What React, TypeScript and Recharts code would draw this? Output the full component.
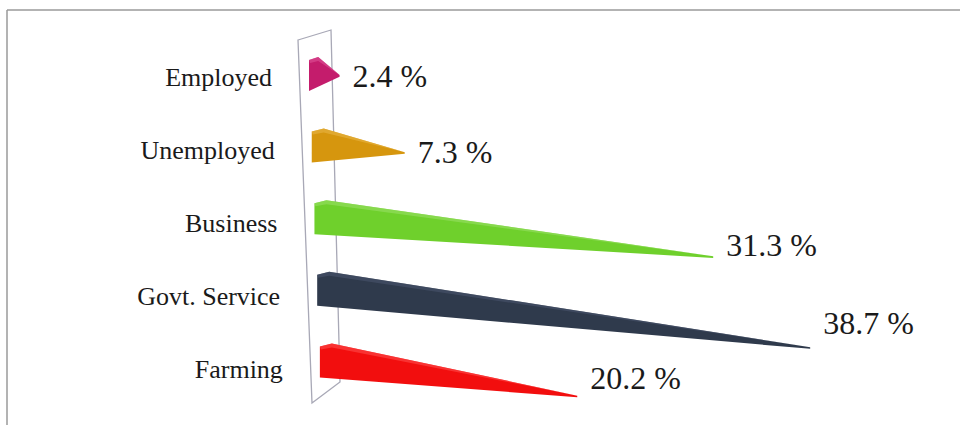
import React from 'react';
import { BarChart, Bar, XAxis, YAxis, LabelList, Cell } from 'recharts';

const categories = ['Employed', 'Unemployed', 'Business', 'Govt. Service', 'Farming'];
const values = [2.4, 7.3, 31.3, 38.7, 20.2];
const colors = ['#c41c6c', '#d6960e', '#6fd02c', '#2f3a4c', '#f20e0e'];
const topColors = ['#e0559a', '#eab84a', '#9be06a', '#4a5670', '#ff5050'];

const data = categories.map((name, i) => ({ name, value: values[i] }));

const W = 960;
const H = 425;
const MARGIN = { top: 38, right: 14, bottom: 29, left: 0 };
const YAXIS_W = 309;
const FIRST_CY = MARGIN.top + (H - MARGIN.top - MARGIN.bottom) / categories.length / 2;
const SERIF = '"Liberation Serif", "Times New Roman", Times, serif';

function geom(x: number, y: number, width: number, height: number) {
  const cy = y + height / 2;
  const shift = (cy - FIRST_CY) * 0.038;
  const x0 = x + shift;
  const len = width;
  const tipX = x0 + len;
  const drop = len * (0.06 + (cy - FIRST_CY) * 0.00028);
  const tipY = cy + drop;
  return { cy, x0, len, tipX, tipY };
}

const WedgeShape = (props: any) => {
  const { x, y, width, height, index } = props;
  if (width == null || width <= 0) return null;
  const g = geom(x, y, width, height);
  const bevel = Math.min(12, g.len * 0.3);
  const main = [
    [g.x0, y + 3],
    [g.x0 + bevel, y],
    [g.tipX, g.tipY - 0.8],
    [g.tipX, g.tipY + 0.8],
    [g.x0, y + height],
  ]
    .map((p) => p.join(','))
    .join(' ');
  const top = [
    [g.x0, y + 3],
    [g.x0 + bevel, y],
    [g.tipX, g.tipY - 0.8],
    [g.x0 + bevel, y + 4],
    [g.x0 + 1, y + 6],
  ]
    .map((p) => p.join(','))
    .join(' ');
  return (
    <g>
      <polygon points={main} fill={colors[index]} />
      <polygon points={top} fill={topColors[index]} opacity={0.55} />
    </g>
  );
};

const ValueLabel = (props: any) => {
  const { x, y, width, height, value } = props;
  const g = geom(x, y, width, height);
  return (
    <text
      x={g.tipX + 13}
      y={g.cy + 11 + g.len * 0.069}
      fontFamily={SERIF}
      fontSize={32}
      fill="#1a1a1a"
      textAnchor="start"
    >
      {`${value} %`}
    </text>
  );
};

const CategoryTick = (props: any) => {
  const { x, y, payload } = props;
  return (
    <text
      x={x - 37 + (y - FIRST_CY) * 0.038}
      y={y + 12.5 + (y - FIRST_CY) * 0.018}
      fontFamily={SERIF}
      fontSize={26}
      fill="#1a1a1a"
      textAnchor="end"
    >
      {payload.value}
    </text>
  );
};

export default function App() {
  const wall = [
    [298, 40],
    [331, 30],
    [340, 382],
    [312, 403],
  ]
    .map((p) => p.join(','))
    .join(' ');
  return (
    <div style={{ position: 'absolute', left: 0, top: 0, width: W, height: H, background: '#fff' }}>
      <svg width={W} height={H} style={{ position: 'absolute', left: 0, top: 0 }}>
        <line x1={7} y1={10} x2={W} y2={10} stroke="#9a9a9a" strokeWidth={1.5} />
        <line x1={7} y1={10} x2={7} y2={H} stroke="#9a9a9a" strokeWidth={1.5} />
        <polygon points={wall} fill="none" stroke="#a8a8b6" strokeWidth={1.3} />
      </svg>
      <div style={{ position: 'absolute', left: 0, top: 0 }}>
        <BarChart width={W} height={H} data={data} layout="vertical" margin={MARGIN} barSize={34}>
          <XAxis type="number" domain={[0, 50]} hide />
          <YAxis
            type="category"
            dataKey="name"
            width={YAXIS_W}
            axisLine={false}
            tickLine={false}
            tickSize={0}
            tickMargin={0}
            tick={<CategoryTick />}
            interval={0}
          />
          <Bar dataKey="value" shape={<WedgeShape />} isAnimationActive={false}>
            {data.map((d, i) => (
              <Cell key={d.name} fill={colors[i]} />
            ))}
            <LabelList dataKey="value" content={<ValueLabel />} />
          </Bar>
        </BarChart>
      </div>
    </div>
  );
}
